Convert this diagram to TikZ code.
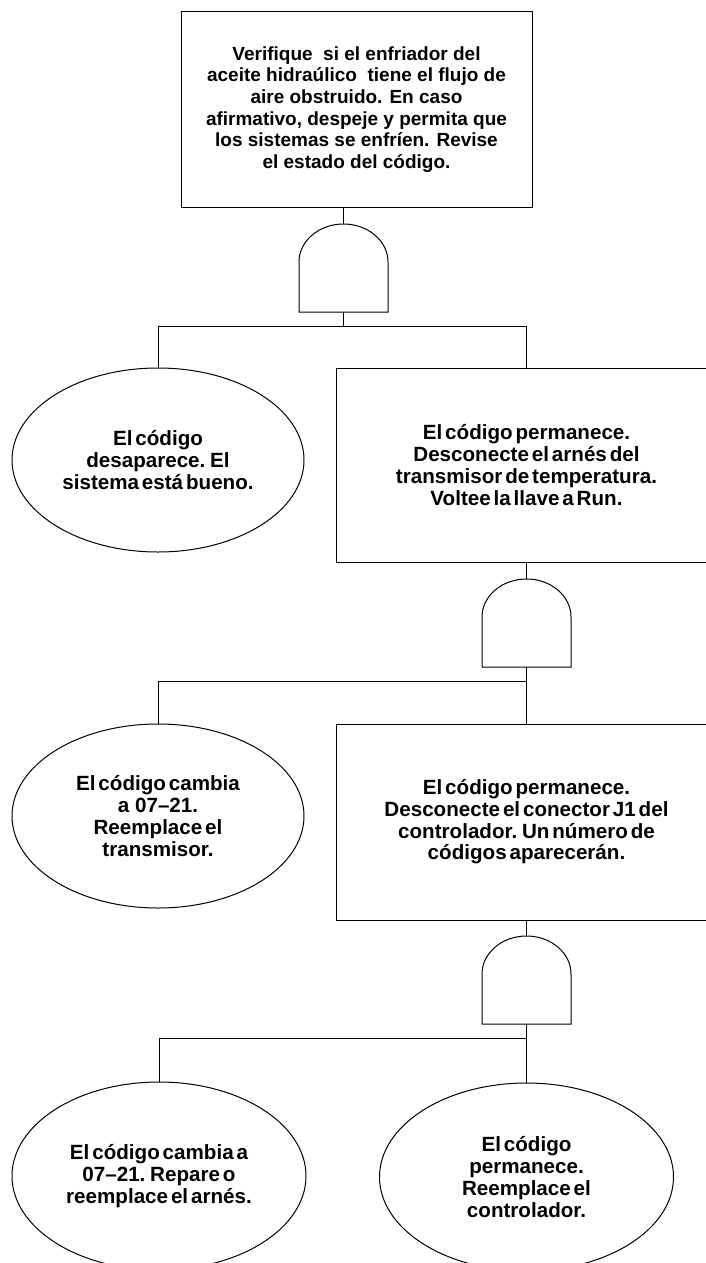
\documentclass[tikz,border=0pt]{standalone}
\usepackage{fontspec}
\setmainfont{Liberation Sans}
\usetikzlibrary{shapes.geometric}
\newcommand\topfont{\fontsize{19}{21.7}\selectfont\bfseries}
\newcommand\diagfont{\fontsize{20.6}{21.7}\selectfont\bfseries\spaceskip=0.14em plus 0.05em minus 0.02em\relax}
\begin{document}
\begin{tikzpicture}[x=1pt,y=1pt,line width=1pt,
  box/.style={draw,rectangle,inner sep=0pt,align=center,font=\diagfont},
  oval/.style={draw,ellipse,inner sep=0pt,align=center,font=\diagfont,minimum width=292pt,minimum height=184pt},
  gateshape/.style={draw,line width=1pt}]
\useasboundingbox (0,0) rectangle (706,-1263);
\clip (0,0) rectangle (706,-1263);

% top box
\node[box,font=\topfont,minimum width=351pt,minimum height=195pt] (b1) at (356.5,-109.5)
  {Verifique~ si el enfriador del\\aceite hidraúlico~ tiene el flujo de\\aire obstruido. En caso\\afirmativo, despeje y permita que\\los sistemas se enfríen. Revise\\el estado del código.};

% gate 1
\coordinate (g1t) at (343.5,-224);
\coordinate (g1b) at (343.5,-312);
\draw[gateshape] (299,-312) -- (299,-262) arc[start angle=180,end angle=0,x radius=44.5,y radius=38] -- (388,-312) -- cycle;
\coordinate (j1) at (343.5,-326);

% level 1
\node[oval] (e1) at (158,-460) {El código\\desaparece. El\\sistema está bueno.};
\node[box,minimum width=380pt,minimum height=194pt] (b2) at (526.5,-465)
  {El código permanece.\\Desconecte el arnés del\\transmisor de temperatura.\\Voltee la llave a Run.};

\draw (g1t |- b1.south) -- (g1t);
\draw (g1b) -- (j1);
\draw (e1.north) |- (j1 -| b2.north) -- (b2.north);

% gate 2
\coordinate (g2t) at (526.5,-579);
\coordinate (g2b) at (526.5,-667);
\draw[gateshape] (482,-667) -- (482,-617) arc[start angle=180,end angle=0,x radius=44.5,y radius=38] -- (571,-667) -- cycle;
\coordinate (j2) at (526.5,-681);
\draw (b2.south) -- (g2t);

% level 2
\node[oval] (e2) at (158,-816) {El código cambia\\a~ 07–21.\\Reemplace el\\transmisor.};
\node[box,minimum width=380pt,minimum height=196pt] (b3) at (526.5,-822)
  {El código permanece.\\Desconecte el conector J1 del\\controlador. Un número de\\códigos aparecerán.};
\draw (g2b) -- (b3.north);
\draw (e2.north) |- (j2);

% gate 3
\coordinate (g3t) at (526.5,-936);
\coordinate (g3b) at (526.5,-1024);
\draw[gateshape] (482,-1024) -- (482,-974) arc[start angle=180,end angle=0,x radius=44.5,y radius=38] -- (571,-1024) -- cycle;
\coordinate (j3) at (526.5,-1038);
\draw (b3.south) -- (g3t);

% level 3
\node[oval,minimum width=294pt,minimum height=188pt] (e3) at (159,-1176) {El código cambia a\\07–21. Repare o\\reemplace el arnés.};
\node[oval,minimum width=294pt,minimum height=188pt] (e4) at (526.5,-1177) {El código\\permanece.\\Reemplace el\\controlador.};
\draw (g3b) -- (e4.north);
\draw (e3.north) |- (j3);
\end{tikzpicture}
\end{document}
